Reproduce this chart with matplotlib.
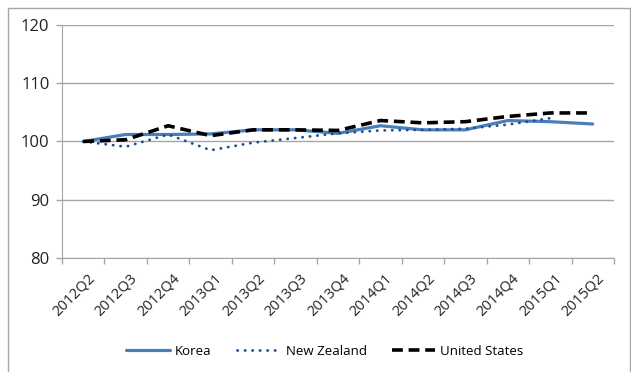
import matplotlib.pyplot as plt
from matplotlib.patches import Rectangle
from matplotlib.transforms import ScaledTranslation

plt.rcParams['font.family'] = ['Open Sans', 'DejaVu Sans']

quarters = ['2012Q2', '2012Q3', '2012Q4', '2013Q1', '2013Q2', '2013Q3', '2013Q4',
            '2014Q1', '2014Q2', '2014Q3', '2014Q4', '2015Q1', '2015Q2']
korea = [100.0, 101.2, 101.2, 101.3, 102.0, 102.0, 101.4, 102.7, 102.0, 102.0, 103.6, 103.4, 103.0]
new_zealand = [100.0, 99.1, 101.2, 98.5, 99.8, 100.6, 101.4, 101.9, 102.0, 102.2, 102.9, 104.0]
united_states = [100.0, 100.3, 102.7, 101.0, 102.0, 102.0, 101.9, 103.6, 103.2, 103.4, 104.3, 104.9, 104.9]

fig = plt.figure(figsize=(6.31, 3.72), dpi=100)
ax = fig.add_axes([0.0983, 0.3065, 0.8747, 0.6263])

x = list(range(len(quarters)))
ax.plot(x, korea, color='#4a7ebb', lw=2.3, label='Korea', solid_capstyle='round')
ax.plot(x[:len(new_zealand)], new_zealand, color='#1f4e8c', lw=2.0,
        linestyle=(0, (0.1, 2.6)), dash_capstyle='round', label='New Zealand')
ax.plot(x, united_states, color='black', lw=2.6, linestyle=(0, (3, 1.6)),
        label='United States')

ax.set_xlim(-0.5, len(quarters) - 0.5)
ax.set_ylim(80, 120)
ax.set_yticks([80, 90, 100, 110, 120])
ax.yaxis.grid(True, color='#a6a6a6', lw=1.0)
ax.set_axisbelow(True)

# category ticks sit between the labels
ax.set_xticks([i - 0.5 for i in range(len(quarters) + 1)], minor=False)
ax.set_xticklabels([])
ax.set_xticks(x, minor=True)
ax.set_xticklabels(quarters, minor=True, rotation=45, ha='right',
                   rotation_mode='anchor', fontsize=10.5, color='#222222')
ax.tick_params(axis='x', which='major', length=4, color='#a6a6a6', width=1)
ax.tick_params(axis='x', which='minor', length=0, pad=9)
ax.tick_params(axis='y', length=4, color='#a6a6a6', width=1, labelsize=12,
               labelcolor='#222222', pad=5)
shift = ScaledTranslation(4 / 100, 0, fig.dpi_scale_trans)
for lbl in ax.get_xticklabels(minor=True):
    lbl.set_transform(lbl.get_transform() + shift)

for side in ['top', 'right']:
    ax.spines[side].set_visible(False)
ax.spines['left'].set_color('#a6a6a6')
ax.spines['bottom'].set_color('#a6a6a6')

fig.legend(loc='center', bbox_to_anchor=(0.515, 0.056), ncol=3, frameon=False,
           fontsize=9.5, handlelength=3.3, columnspacing=1.9, handletextpad=0.4)

fig.patches.append(Rectangle((8 / 631, -0.1), 622 / 631, 1.1 - 8 / 372,
                             transform=fig.transFigure, fill=False,
                             edgecolor='#a6a6a6', lw=1.0))

fig.savefig('out.png', dpi=100)
